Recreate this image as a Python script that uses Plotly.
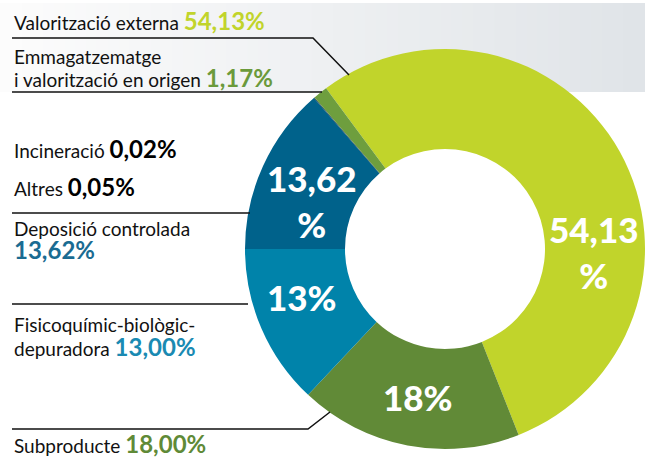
import plotly.graph_objects as go

categories = ["Valorització externa", "Subproducte", "Fisicoquímic-biològic-depuradora",
              "Deposició controlada", "Altres", "Incineració",
              "Emmagatzematge i valorització en origen"]
values = [54.13, 18.00, 13.00, 13.62, 0.05, 0.02, 1.17]
slice_labels = ["54,13<br>%", "18%", "13%", "13,62<br>%", "", "", ""]
colors = ["#c1d42b", "#618a37", "#0083aa", "#00628b", "#0b3b55", "#111111", "#6e9e3e"]
pct_colors = ["#c1d42b", "#5f8a37", "#1a8ab2", "#1a6b92", "#000000", "#000000", "#6b9a3b"]

W, H = 645, 457
def px(x): return x / W
def py(y): return 1 - y / H

FONT = "Lato"

fig = go.Figure()
fig.add_trace(go.Pie(
    labels=categories, values=values, hole=0.5, sort=False, direction="clockwise",
    rotation=-36.5, marker=dict(colors=colors, line=dict(width=0)),
    textinfo="none", hoverinfo="label+percent", showlegend=False,
    domain=dict(x=[px(245), px(645)], y=[py(449), py(49)])
))

shapes = []
# gradient band at top
n = 60
c0 = (252, 252, 252)
c1 = (224, 228, 232)
for i in range(n):
    t = i / (n - 1)
    c = tuple(int(round(c0[k] + (c1[k] - c0[k]) * t)) for k in range(3))
    shapes.append(dict(type="rect", xref="paper", yref="paper", layer="below",
                       x0=i / n, x1=(i + 1) / n + 0.002, y0=py(92), y1=py(3),
                       fillcolor="rgb(%d,%d,%d)" % c, line=dict(width=0)))

def path(pts):
    d = "M " + " L ".join("%f,%f" % (px(x), py(y)) for x, y in pts)
    return dict(type="path", xref="paper", yref="paper", path=d,
                line=dict(color="#111111", width=1.5), layer="above")

shapes += [
    path([(12, 38), (313, 38), (349, 75)]),
    path([(12, 92), (322, 92)]),
    path([(12, 213), (250, 213)]),
    path([(12, 304), (248, 304)]),
    path([(12, 429), (308, 429), (330, 412)]),
]

big = 24
def pct(v, i):
    return "<span style='font-size:%dpx'><b><span style='color:%s'>%s%%</span></b></span>" % (
        big, pct_colors[i], ("%.2f" % v).replace(".", ","))

ann = []
def label(x, y, text, size=19):
    ann.append(dict(x=px(x), y=py(y), xref="paper", yref="paper", xanchor="left",
                    yanchor="middle", align="left", showarrow=False, text=text,
                    font=dict(family=FONT, size=size, color="#111111")))

label(12, 20, "Valorització externa " + pct(values[0], 0))
label(12, 56, "Emmagatzematge")
label(12, 78, "i valorització en origen " + pct(values[6], 6))
label(12, 149, "Incineració " + pct(values[5], 5))
label(12, 186, "Altres " + pct(values[4], 4))
label(12, 228, "Deposició controlada")
label(12, 250, pct(values[3], 3))
label(12, 324, "Fisicoquímic-biològic-")
label(12, 346, "depuradora " + pct(values[2], 2))
label(12, 443, "Subproducte " + pct(values[1], 1))

slice_pos = {0: (593, 252), 1: (418, 397), 2: (302, 297), 3: (311, 201)}
for i, (x, y) in slice_pos.items():
    ann.append(dict(x=px(x), y=py(y), xref="paper", yref="paper", xanchor="center",
                    yanchor="middle", showarrow=False, text="<b>%s</b>" % slice_labels[i],
                    font=dict(family="Lato Black, Lato", size=35, color="white", weight=900)))

fig.update_layout(
    width=W, height=H, margin=dict(l=0, r=0, t=0, b=0),
    paper_bgcolor="white", plot_bgcolor="white",
    shapes=shapes, annotations=ann,
)
fig.write_html("out.html", config={"displayModeBar": False},
               post_script="document.body.style.margin='0';document.body.style.overflow='hidden';")
